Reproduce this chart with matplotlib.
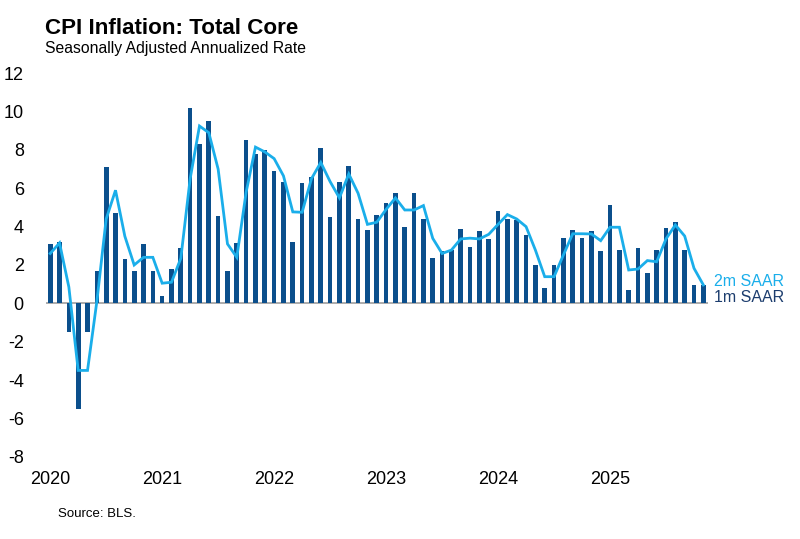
import matplotlib
matplotlib.use("Agg")
import matplotlib.pyplot as plt
import numpy as np

plt.rcParams['font.family'] = ['Liberation Sans', 'DejaVu Sans']

# Monthly data Jan 2020 .. Nov 2025
one_month = [
    3.1, 3.2, -1.5, -5.5, -1.5, 1.7, 7.1, 4.7, 2.3, 1.7, 3.1, 1.7,     # 2020
    0.4, 1.8, 2.9, 10.2, 8.3, 9.5, 4.55, 1.67, 3.15, 8.5, 7.8, 8.0,    # 2021
    6.9, 6.35, 3.2, 6.3, 6.6, 8.1, 4.5, 6.33, 7.17, 4.38, 3.84, 4.6,   # 2022
    5.23, 5.76, 3.97, 5.76, 4.42, 2.37, 2.75, 2.77, 3.9, 2.92, 3.76, 3.36,  # 2023
    4.82, 4.38, 4.35, 3.57, 1.98, 0.78, 2.0, 3.43, 3.81, 3.41, 3.76, 2.73,  # 2024
    5.15, 2.77, 0.7, 2.87, 1.58, 2.77, 3.95, 4.23, 2.77, 0.96, 0.96,        # 2025
]
two_month = [
    2.6, 3.15, 0.85, -3.5, -3.5, 0.1, 4.4, 5.9, 3.5, 2.0, 2.4, 2.4,
    1.05, 1.1, 2.35, 6.5, 9.25, 8.9, 7.0, 3.1, 2.4, 5.8, 8.15, 7.9,
    7.55, 6.65, 4.77, 4.75, 6.5, 7.35, 6.35, 5.5, 6.75, 5.74, 4.12, 4.23,
    4.9, 5.5, 4.87, 4.87, 5.1, 3.39, 2.6, 2.78, 3.36, 3.4, 3.36, 3.6,
    4.12, 4.63, 4.4, 4.0, 2.78, 1.39, 1.39, 2.52, 3.63, 3.63, 3.62, 3.27,
    3.97, 3.97, 1.74, 1.79, 2.23, 2.17, 3.36, 4.09, 3.51, 1.83, 0.96,
]
year_labels = ['2020', '2021', '2022', '2023', '2024', '2025']
y_ticks = [-8, -6, -4, -2, 0, 2, 4, 6, 8, 10, 12]

bar_color = '#0b4f8c'
line_color = '#1aaeea'
label1_color = '#1c3d6e'

fig = plt.figure(figsize=(8.0, 5.39), dpi=100)
ax = fig.add_axes([0.0575, 0.1527, 0.8275, 0.7113])

x = np.arange(len(one_month))
ax.bar(x, one_month, width=0.5, color=bar_color, zorder=2)
ax.plot(x, two_month, color=line_color, lw=2.0, zorder=3, solid_joinstyle='miter')
ax.axhline(0, color='#a6a6a6', lw=1.3, zorder=1)

ax.set_xlim(-0.45, 70.5)
ax.set_ylim(-8, 12)
ax.set_yticks(y_ticks)
ax.set_yticklabels([str(v) for v in y_ticks], fontsize=13)
ax.set_xticks(np.arange(len(year_labels)) * 12)
ax.set_xticklabels(year_labels, fontsize=13)
ax.tick_params(axis='y', length=0, pad=16)
ax.tick_params(axis='x', length=0, pad=10.5)
for s in ax.spines.values():
    s.set_visible(False)

ax.annotate('2m SAAR', xy=(x[-1], two_month[-1]), xytext=(7.5, 2.5),
            textcoords='offset points', color=line_color, fontsize=11.5,
            va='center', ha='left', annotation_clip=False)
ax.annotate('1m SAAR', xy=(x[-1], 0), xytext=(7.5, 4.5),
            textcoords='offset points', color=label1_color, fontsize=11.5,
            va='center', ha='left', annotation_clip=False)

fig.text(45/800, 1 - 28.5/539, 'CPI Inflation: Total Core', fontsize=16.1,
         fontweight='bold', va='center', ha='left')
fig.text(45/800, 1 - 49/539, 'Seasonally Adjusted Annualized Rate', fontsize=11.3,
         va='center', ha='left')
fig.text(58/800, 1 - 514/539, 'Source: BLS.', fontsize=9.5, va='center', ha='left')

fig.savefig('out.png', dpi=100)
